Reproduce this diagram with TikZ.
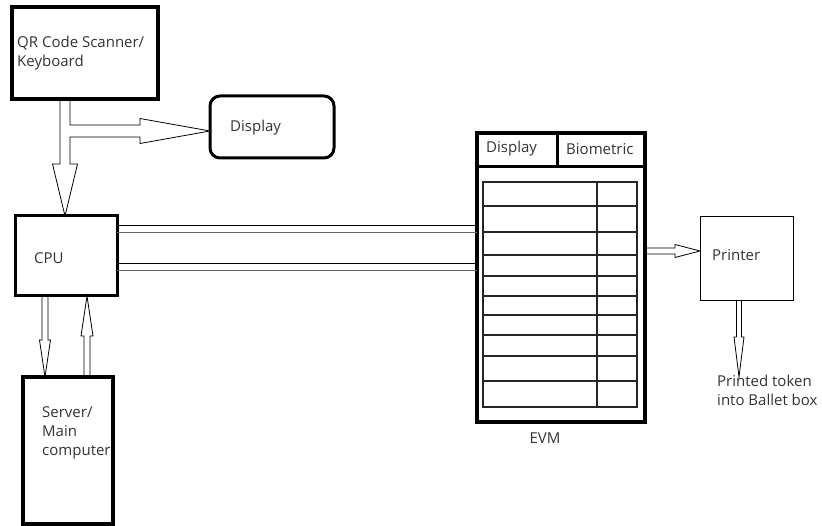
\documentclass[tikz,border=0pt]{standalone}
\usepackage{fontspec}
\setmainfont{Open Sans}
\usetikzlibrary{calc, positioning}

\tikzset{
  box/.style={draw, rectangle, inner sep=0pt, outer sep=0pt},
  txt/.style={font=\fontsize{15}{19}\selectfont, text=black!80, align=left, inner sep=0pt, anchor=west},
  hollow/.style={draw, line width=0.8pt, line join=miter},
  link/.style={line width=1pt},
}

% hollow block arrow: tail, tip, shaft half width, head half width, head length
\newcommand{\blockarrow}[5]{%
  \coordinate (hb) at ($(#2)!#5!(#1)$);
  \draw[hollow] ($(#1)!#3!90:(#2)$) -- ($(hb)!#3!90:(#2)$) -- ($(hb)!#4!90:(#2)$)
    -- (#2) -- ($(hb)!#4!-90:(#2)$) -- ($(hb)!#3!-90:(#2)$) -- ($(#1)!#3!-90:(#2)$);
}

\begin{document}
\begin{tikzpicture}[x=1pt, y=-1pt]
    \useasboundingbox (0,0) rectangle (822,526);

    % Blocks
    \node[box, line width=4pt, minimum width=146pt, minimum height=92pt] (qr) at (85,53) {};
    \node[box, line width=3pt, rounded corners=10pt, minimum width=124pt, minimum height=62pt] (disp) at (272,127) {};
    \node[box, line width=3pt, minimum width=102pt, minimum height=80pt] (cpu) at (66,256) {};
    \node[box, line width=3.5pt, minimum width=90pt, minimum height=147pt] (srv) at (68,450.5) {};
    \node[box, line width=3.5pt, minimum width=168pt, minimum height=289pt] (evm) at (561,277.5) {};
    \node[box, line width=0.9pt, minimum width=93pt, minimum height=84pt] (prn) at (746.5,258) {};

    % EVM header and ballot table
    \draw[line width=3pt] (477,167) -- (645,167);
    \draw[line width=3pt] (557,133) -- (557,167);
    \draw[line width=1.1pt, black!85] (483,182) rectangle (637,407);
    \draw[line width=1.1pt, black!85] (597,182) -- (597,407);
    \foreach \y in {206,232,255,276,296,315,335,356,381}
        \draw[line width=1.1pt, black!85] (483,\y) -- (637,\y);

    % Labels
    \node[txt] (qrtext) at (17,53) {QR Code Scanner/\\Keyboard};
    \node[txt] (disptext) at (230,128) {Display};
    \node[txt] (cputext) at (34,258) {CPU};
    \node[txt] (srvtext) at (42,433) {Server/\\Main\\computer};
    \node[txt] (evmdisp) at (486,149) {Display};
    \node[txt] (evmbio) at (566,149) {Biometric};
    \node[txt, anchor=center] (evmtext) at (545,438) {EVM};
    \node[txt] (prntext) at (712,255) {Printer};
    \node[txt] (token) at (717,390) {Printed token\\into Ballet box};

    % Input arrow, split to CPU and display
    \coordinate (qrout) at ([xshift=-20pt]qr.south);
    \draw[hollow] let \p1=(qrout), \p2=([yshift=-4pt]disp.west), \p3=(cpu.north -| qrout) in
        (\x1-5pt,\y1) -- (\x1-5pt,\y3+52pt) -- (\x1-12.5pt,\y3+52pt) -- (\p3)
        -- (\x1+12.5pt,\y3+52pt) -- (\x1+5pt,\y3+52pt) -- (\x1+5pt,\y2-6pt)
        -- (\x2-70pt,\y2-6pt) -- (\x2-70pt,\y2-12.5pt) -- (\p2)
        -- (\x2-70pt,\y2+12.5pt) -- (\x2-70pt,\y2+6pt) -- (\x1+5pt,\y2+6pt) -- (\x1+5pt,\y1);

    % CPU <-> server
    \coordinate (cpuout) at ([xshift=30pt]cpu.south west);
    \blockarrow{cpuout}{srv.north -| cpuout}{3pt}{5.5pt}{37pt}
    \coordinate (srvout) at ([xshift=64pt]srv.north west);
    \blockarrow{srvout}{cpu.south -| srvout}{3pt}{6pt}{40pt}

    % CPU to EVM buses
    \draw[link] ([yshift=-10pt]cpu.north east) -- ([yshift=-10pt]cpu.north east -| evm.west);
    \draw[link, black!60] ([yshift=-17pt]cpu.north east) -- ([yshift=-17pt]cpu.north east -| evm.west);
    \draw[link] ([yshift=-48pt]cpu.north east) -- ([yshift=-48pt]cpu.north east -| evm.west);
    \draw[link, black!60] ([yshift=-55pt]cpu.north east) -- ([yshift=-55pt]cpu.north east -| evm.west);

    % EVM to printer, printer to token
    \coordinate (evmout) at ([yshift=26.5pt]evm.east);
    \blockarrow{evmout}{prn.west |- evmout}{3pt}{6.5pt}{25pt}
    \coordinate (prnout) at ([xshift=-7.5pt]prn.south);
    \coordinate (tokenin) at ([yshift=-77pt]prnout);
    \blockarrow{prnout}{tokenin}{2.5pt}{5pt}{40pt}
\end{tikzpicture}
\end{document}
